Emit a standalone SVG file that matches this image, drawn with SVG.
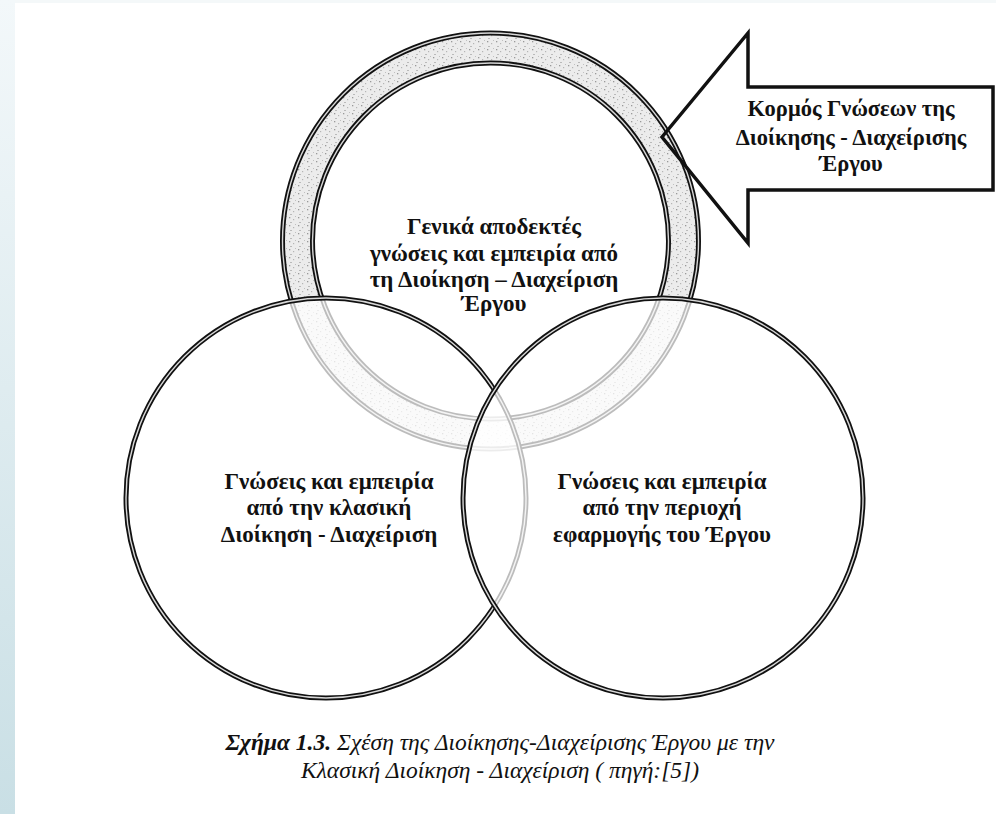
<svg xmlns="http://www.w3.org/2000/svg" width="996" height="814" viewBox="0 0 996 814">
<defs>
<linearGradient id="strip" x1="0" y1="0" x2="0" y2="1">
<stop offset="0" stop-color="#f3f8fa"/>
<stop offset="1" stop-color="#c9dfe5"/>
</linearGradient>
<pattern id="speck" width="9" height="8" patternUnits="userSpaceOnUse">
<rect width="9" height="8" fill="#ececec"/>
<rect x="1" y="1" width="1.3" height="1.3" fill="#999"/>
<rect x="5" y="3" width="1.2" height="1.2" fill="#b5b5b5"/>
<rect x="2.5" y="6" width="1" height="1" fill="#888"/>
<rect x="7" y="0" width="1" height="1" fill="#c0c0c0"/>
</pattern>
<style>
.edge{fill:none;stroke:#111;stroke-width:5}
.gap{fill:none;stroke:#d8d8d8;stroke-width:1.4}
.lbl{font-family:"Liberation Serif","DejaVu Serif",serif;font-weight:bold;font-size:23px;fill:#111;text-anchor:middle}
.call{font-size:22.5px}
.cap{font-family:"Liberation Serif","DejaVu Serif",serif;font-style:italic;font-size:23.5px;fill:#111;text-anchor:middle}
.disc{fill:#fff;fill-opacity:0.72}
</style>
</defs>
<rect width="996" height="814" fill="#fff"/>
<rect x="0" y="0" width="15" height="814" fill="url(#strip)"/>
<rect x="15" y="0" width="981" height="3" fill="#f4f8f9"/>

<g id="top-ring">
<circle cx="490.5" cy="241" r="193" fill="none" stroke="url(#speck)" stroke-width="30"/>
<circle cx="490.5" cy="241" r="208" class="edge"/>
<circle cx="490.5" cy="241" r="208" class="gap"/>
<circle cx="490.5" cy="241" r="178" class="edge"/>
<circle cx="490.5" cy="241" r="178" class="gap"/>
</g>

<g id="left-circle">
<circle cx="326" cy="498" r="200" class="disc"/>
<circle cx="326" cy="498" r="200" class="edge"/>
<circle cx="326" cy="498" r="200" class="gap"/>
</g>

<g id="right-circle">
<circle cx="663" cy="498" r="200" class="disc"/>
<circle cx="663" cy="498" r="200" class="edge"/>
<circle cx="663" cy="498" r="200" class="gap"/>
</g>

<g id="top-label">
<text class="lbl" x="494" y="234">Γενικά αποδεκτές</text>
<text class="lbl" x="494" y="261">γνώσεις και εμπειρία από</text>
<text class="lbl" x="494" y="287">τη Διοίκηση – Διαχείριση</text>
<text class="lbl" x="494" y="311">Έργου</text>
</g>

<g id="left-label">
<text class="lbl" x="329" y="489">Γνώσεις και εμπειρία</text>
<text class="lbl" x="329" y="515">από την κλασική</text>
<text class="lbl" x="329" y="542">Διοίκηση - Διαχείριση</text>
</g>

<g id="right-label">
<text class="lbl" x="662" y="489">Γνώσεις και εμπειρία</text>
<text class="lbl" x="662" y="515">από την περιοχή</text>
<text class="lbl" x="662" y="542">εφαρμογής του Έργου</text>
</g>

<g id="callout">
<polygon points="662,137 748,33 748,87 993,87 993,190 748,190 748,243" fill="none" stroke="#111" stroke-width="3.5" stroke-linejoin="miter"/>
<text class="lbl call" x="851" y="116">Κορμός Γνώσεων της</text>
<text class="lbl call" x="851" y="145">Διοίκησης - Διαχείρισης</text>
<text class="lbl call" x="851" y="171">Έργου</text>
</g>

<g id="caption">
<text class="cap" x="500" y="750"><tspan font-weight="bold">Σχήμα 1.3.</tspan> Σχέση της Διοίκησης-Διαχείρισης Έργου με την</text>
<text class="cap" x="500" y="778">Κλασική Διοίκηση - Διαχείριση ( πηγή:[5])</text>
</g>
</svg>
